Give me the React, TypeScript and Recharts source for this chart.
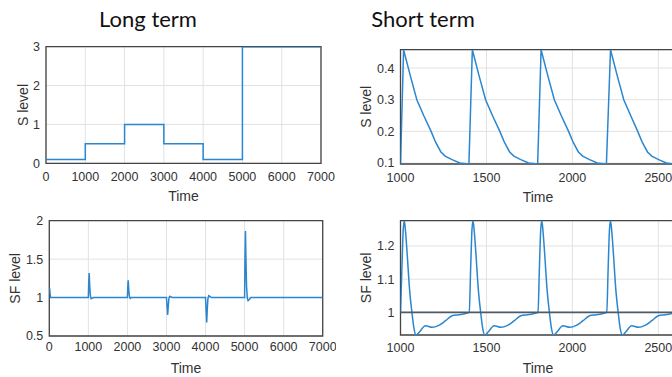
import React from 'react';
import { LineChart, Line, XAxis, YAxis, CartesianGrid, ReferenceArea, ReferenceLine } from 'recharts';

// ---------- data ----------
const longTicks = [0, 1000, 2000, 3000, 4000, 5000, 6000, 7000];
const shortTicks = [1000, 1500, 2000, 2500];

const sLongTime = [0, 1000, 2000, 3000, 4000, 5000, 7000];
const sLongValue = [0.1, 0.5, 1, 0.5, 0.1, 3, 3];
const sLongYTicks = [0, 1, 2, 3];

const sfLongTime = [
  0, 8, 30, 1000, 1010, 1020, 1035, 1050, 1070, 1090, 1130,
  2000, 2010, 2020, 2035, 2050, 2070, 2100,
  3000, 3015, 3030, 3045, 3060, 3080, 3110, 3150,
  4000, 4015, 4030, 4045, 4060, 4080, 4110, 4150,
  5000, 5010, 5022, 5035, 5050, 5070, 5090, 5120, 5160, 7000,
];
const sfLongValue = [
  1.05, 1.12, 1.0, 1.0, 1.2, 1.32, 1.15, 1.03, 0.985, 0.99, 1.0,
  1.0, 1.15, 1.225, 1.1, 1.02, 0.99, 1.0,
  1.0, 0.88, 0.775, 0.88, 0.98, 1.015, 1.01, 1.0,
  1.0, 0.83, 0.675, 0.85, 0.98, 1.025, 1.015, 1.0,
  1.0, 1.5, 1.865, 1.5, 1.15, 0.99, 0.96, 0.975, 1.0, 1.0,
];
const sfLongYTicks = [0.5, 1, 1.5, 2];

const sShortTime = [
  1000, 1018, 1055, 1095, 1135, 1178, 1205, 1235, 1260, 1300, 1345, 1398,
  1418, 1455, 1495, 1535, 1578, 1605, 1635, 1660, 1700, 1745, 1798,
  1818, 1855, 1895, 1935, 1978, 2005, 2035, 2060, 2100, 2145, 2198,
  2222, 2259, 2299, 2339, 2380, 2407, 2437, 2462, 2502, 2547, 2600,
];
const sShortValue = [
  0.097, 0.458, 0.38, 0.3, 0.25, 0.2, 0.165, 0.135, 0.122, 0.111, 0.1, 0.097,
  0.458, 0.38, 0.3, 0.25, 0.2, 0.165, 0.135, 0.122, 0.111, 0.1, 0.097,
  0.458, 0.38, 0.3, 0.25, 0.2, 0.165, 0.135, 0.122, 0.111, 0.1, 0.097,
  0.458, 0.38, 0.3, 0.25, 0.2, 0.165, 0.135, 0.122, 0.111, 0.1, 0.097,
];
const sShortYTicks = [0.1, 0.2, 0.3, 0.4];

const sfShortTime = [
  1000, 1008, 1016, 1022, 1029, 1039, 1052, 1068, 1078, 1091, 1110, 1145, 1184, 1223, 1262, 1300, 1339, 1378,
  1400, 1408, 1416, 1422, 1429, 1439, 1452, 1468, 1478, 1491, 1510, 1545, 1584, 1623, 1662, 1700, 1739, 1778,
  1800, 1808, 1816, 1822, 1829, 1839, 1852, 1868, 1878, 1891, 1910, 1945, 1984, 2023, 2062, 2100, 2139, 2178,
  2200, 2208, 2216, 2222, 2229, 2239, 2252, 2268, 2278, 2291, 2310, 2345, 2384, 2423, 2462, 2500, 2539, 2578,
  2600,
];
const sfShortValue = [
  1.0, 1.13, 1.25, 1.276, 1.245, 1.175, 1.074, 0.993, 0.953, 0.932, 0.941, 0.96, 0.955, 0.961, 0.975, 0.99, 0.993, 0.997,
  1.0, 1.13, 1.25, 1.276, 1.245, 1.175, 1.074, 0.993, 0.953, 0.932, 0.941, 0.96, 0.955, 0.961, 0.975, 0.99, 0.993, 0.997,
  1.0, 1.13, 1.25, 1.276, 1.245, 1.175, 1.074, 0.993, 0.953, 0.932, 0.941, 0.96, 0.955, 0.961, 0.975, 0.99, 0.993, 0.997,
  1.0, 1.13, 1.25, 1.276, 1.245, 1.175, 1.074, 0.993, 0.953, 0.932, 0.941, 0.96, 0.955, 0.961, 0.975, 0.99, 0.993, 0.997,
  1.0,
];
const sfShortYTicks = [1, 1.1, 1.2];

const zip = (ts: number[], vs: number[]) => ts.map((t, i) => ({ t, v: vs[i] }));

// ---------- styles ----------
const FONT = '"Liberation Sans", Arial, Helvetica, sans-serif';
const LINE = '#2a86cf';
const TEXT = '#333333';
const FRAME = '#444444';
const GRID = '#e2e2e2';

type PanelProps = {
  left: number; top: number; width: number; height: number;
  margin: { top: number; right: number; bottom: number; left: number };
  yAxisWidth: number; xAxisHeight: number;
  data: { t: number; v: number }[];
  xDomain: [number, number]; xTicks: number[];
  yDomain: [number, number]; yTicks: number[];
  lineType: any;
  yLabel: string; yLabelX: number;
  xLabelDy: number; xTickMargin: number;
  refY?: number;
};

function Panel(p: PanelProps) {
  const xLabel = (props: any) => {
    const vb = props.viewBox || { x: 0, y: 0, width: 0, height: 0 };
    return (
      <text x={vb.x + vb.width / 2} y={vb.y + p.xLabelDy} textAnchor="middle"
        fill={TEXT} fontSize={14} fontFamily={FONT}>Time</text>
    );
  };
  const yLabel = (props: any) => {
    const vb = props.viewBox || { x: 0, y: 0, width: 0, height: 0 };
    const cy = vb.y + vb.height / 2;
    return (
      <text x={p.yLabelX} y={cy} transform={`rotate(-90, ${p.yLabelX}, ${cy})`} textAnchor="middle"
        dominantBaseline="central" fill={TEXT} fontSize={14} fontFamily={FONT}>{p.yLabel}</text>
    );
  };
  const tickStyle = { fill: TEXT, fontSize: 12.5, fontFamily: FONT };
  return (
    <div style={{ position: 'absolute', left: p.left, top: p.top }}>
      <LineChart width={p.width} height={p.height} data={p.data} margin={p.margin}>
        <CartesianGrid stroke={GRID} strokeWidth={1} />
        <XAxis type="number" dataKey="t" domain={p.xDomain} ticks={p.xTicks} interval={0}
          allowDataOverflow tickLine={false} axisLine={false} tickSize={0} tickMargin={p.xTickMargin}
          height={p.xAxisHeight} tick={tickStyle} label={{ content: xLabel }} />
        <YAxis type="number" domain={p.yDomain} ticks={p.yTicks} interval={0}
          allowDataOverflow tickLine={false} axisLine={false} tickSize={0} tickMargin={6}
          width={p.yAxisWidth} tick={tickStyle} label={{ content: yLabel }} />
        <Line type={p.lineType} dataKey="v" stroke={LINE} strokeWidth={1.5} dot={false}
          isAnimationActive={false} />
        {p.refY !== undefined && (
          <ReferenceLine y={p.refY} stroke="#505a66" strokeWidth={1.6} />
        )}
        <ReferenceArea x1={p.xDomain[0]} x2={p.xDomain[1]} y1={p.yDomain[0]} y2={p.yDomain[1]}
          fill="none" fillOpacity={0} stroke={FRAME} strokeWidth={1.3} />
      </LineChart>
    </div>
  );
}

export default function App() {
  return (
    <div style={{ position: 'fixed', left: 0, top: 0, width: 672, height: 377, overflow: 'hidden', background: '#fff' }}>
      <svg width={672} height={40} style={{ position: 'absolute', left: 0, top: 0 }}>
        <text x={148} y={26.5} textAnchor="middle" fontFamily="Lato, 'Open Sans', sans-serif" fontSize={22} fill="#111">Long term</text>
        <text x={423} y={26.5} textAnchor="middle" fontFamily="Lato, 'Open Sans', sans-serif" fontSize={22} fill="#111">Short term</text>
      </svg>

      <Panel left={0} top={30} width={335} height={182}
        margin={{ top: 16.7, right: 14, bottom: 10, left: 0 }}
        yAxisWidth={46} xAxisHeight={38.7}
        data={zip(sLongTime, sLongValue)}
        xDomain={[0, 7000]} xTicks={longTicks}
        yDomain={[0, 3]} yTicks={sLongYTicks}
        lineType="stepAfter" yLabel="S level" yLabelX={22.7}
        xLabelDy={37.5} xTickMargin={8.9} />

      <Panel left={0} top={205} width={336} height={172}
        margin={{ top: 15.7, right: 13.3, bottom: 0, left: 0 }}
        yAxisWidth={49.3} xAxisHeight={41}
        data={zip(sfLongTime, sfLongValue)}
        xDomain={[0, 7000]} xTicks={longTicks}
        yDomain={[0.5, 2]} yTicks={sfLongYTicks}
        lineType="linear" yLabel="SF level" yLabelX={15}
        xLabelDy={37.3} xTickMargin={6.2} />

      <Panel left={340} top={30} width={340} height={182}
        margin={{ top: 19.7, right: 4.5, bottom: 10, left: 0 }}
        yAxisWidth={60.5} xAxisHeight={38}
        data={zip(sShortTime, sShortValue)}
        xDomain={[1000, 2600]} xTicks={shortTicks}
        yDomain={[0.097, 0.458]} yTicks={sShortYTicks}
        lineType="linear" yLabel="S level" yLabelX={26}
        xLabelDy={38} xTickMargin={8.8} />

      <Panel left={340} top={205} width={340} height={172}
        margin={{ top: 15.7, right: 4.5, bottom: 0, left: 0 }}
        yAxisWidth={60.5} xAxisHeight={42}
        data={zip(sfShortTime, sfShortValue)}
        xDomain={[1000, 2600]} xTicks={shortTicks}
        yDomain={[0.932, 1.276]} yTicks={sfShortYTicks}
        lineType="monotone" yLabel="SF level" yLabelX={26}
        xLabelDy={37.7} xTickMargin={8.2} refY={1} />
    </div>
  );
}
